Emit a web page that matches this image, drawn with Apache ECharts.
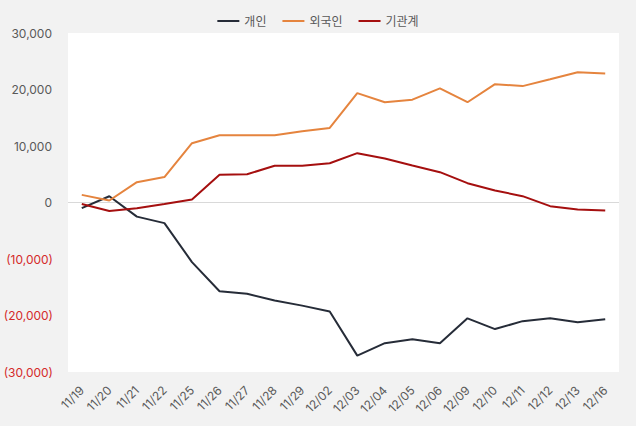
<!DOCTYPE html>
<html>
<head>
<meta charset="utf-8">
<script src="https://cdn.jsdelivr.net/npm/echarts@6/dist/echarts.min.js"></script>
<style>
  html, body { margin: 0; padding: 0; background: #f2f2f2; }
  #chart { width: 636px; height: 426px; }
</style>
</head>
<body>
<div id="chart"></div>
<script>
const dates = ["11/19", "11/20", "11/21", "11/22", "11/25", "11/26", "11/27", "11/28", "11/29", "12/02",
  "12/03", "12/04", "12/05", "12/06", "12/09", "12/10", "12/11", "12/12", "12/13", "12/16"];

const individual = [-1000, 1100, -2500, -3650, -10550, -15700, -16150, -17350, -18250, -19300,
  -27100, -24900, -24200, -24900, -20500, -22400, -21000, -20500, -21200, -20650];
const foreign = [1350, 350, 3600, 4500, 10500, 11900, 11900, 11900, 12600, 13200,
  19350, 17750, 18200, 20200, 17750, 20950, 20600, 21800, 23050, 22850];
const institution = [-250, -1500, -1000, -250, 550, 4900, 5000, 6500, 6500, 6950,
  8730, 7800, 6550, 5370, 3420, 2120, 1120, -650, -1240, -1420];

const chart = echarts.init(document.getElementById("chart"), null, { renderer: "svg" });

const fontFamily = "Inter, 'Noto Sans CJK KR', sans-serif";

function fmt(v) {
  const s = Math.abs(v).toLocaleString("en-US");
  // 음수는 괄호 + 빨간색
  return v < 0 ? "{n|(" + s + ")}" : "{p|" + s + "}";
}

chart.setOption({
  backgroundColor: "#f2f2f2",
  textStyle: { fontFamily: fontFamily },
  animation: false,
  legend: {
    top: 10,
    left: "center",
    icon: "rect",
    itemWidth: 22,
    itemHeight: 2,
    itemGap: 16,
    textStyle: { color: "#595959", fontSize: 12, fontFamily: fontFamily },
    data: ["개인", "외국인", "기관계"],
  },
  grid: {
    left: 68,
    right: 17,
    top: 33,
    bottom: 54,
    show: true,
    backgroundColor: "#ffffff",
    borderWidth: 0,
  },
  xAxis: {
    type: "category",
    data: dates,
    boundaryGap: true,
    axisLine: { show: false },
    axisTick: { show: false },
    axisLabel: {
      interval: 0,
      rotate: 45,
      margin: 16,
      color: "#595959",
      fontSize: 12,
      fontFamily: fontFamily,
    },
  },
  yAxis: {
    type: "value",
    min: -30000,
    max: 30000,
    interval: 10000,
    axisLine: { show: false },
    axisTick: { show: false },
    splitLine: { show: false },
    axisLabel: {
      margin: 15,
      formatter: fmt,
      rich: {
        p: { color: "#595959", fontSize: 12, fontFamily: fontFamily, padding: [0, 1, 0, 0] },
        n: { color: "#d42a2a", fontSize: 12, fontFamily: fontFamily },
      },
    },
  },
  series: [
    {
      name: "개인",
      type: "line",
      data: individual,
      symbol: "none",
      lineStyle: { color: "#262c38", width: 2 },
      itemStyle: { color: "#262c38" },
      z: 3,
      markLine: {
        silent: true,
        symbol: "none",
        label: { show: false },
        lineStyle: { color: "#d9d9d9", width: 1, type: "solid" },
        data: [{ yAxis: 0 }],
        z: 1,
      },
    },
    {
      name: "외국인",
      type: "line",
      data: foreign,
      symbol: "none",
      lineStyle: { color: "#e5843e", width: 2 },
      itemStyle: { color: "#e5843e" },
      z: 3,
    },
    {
      name: "기관계",
      type: "line",
      data: institution,
      symbol: "none",
      lineStyle: { color: "#a50f0f", width: 2 },
      itemStyle: { color: "#a50f0f" },
      z: 3,
    },
  ],
});
</script>
</body>
</html>
